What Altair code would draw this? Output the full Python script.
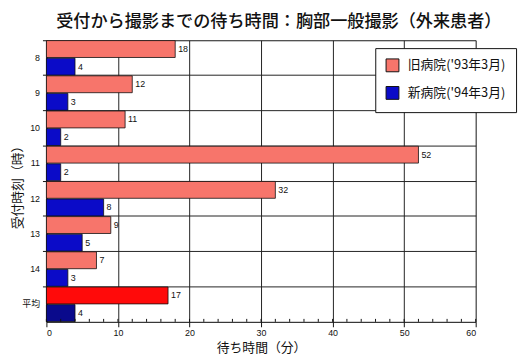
import altair as alt
import pandas as pd

hours = ["8", "9", "10", "11", "12", "13", "14", "平均"]
old_vals = [18, 12, 11, 52, 32, 9, 7, 17]
new_vals = [4, 3, 2, 2, 8, 5, 3, 4]
series = ["旧病院('93年3月)", "新病院('94年3月)"]
colors = ["#F7756B", "#0B0BC8"]
avg_colors = ["#FF0A0A", "#0A0A8C"]
minor_ticks = list(range(0, 61, 2))

rows = []
for h, o, n in zip(hours, old_vals, new_vals):
    rows.append({"hour": h, "series": series[0], "value": o,
                 "fill": avg_colors[0] if h == "平均" else colors[0]})
    rows.append({"hour": h, "series": series[1], "value": n,
                 "fill": avg_colors[1] if h == "平均" else colors[1]})
df = pd.DataFrame(rows)
ticks_df = pd.DataFrame({"t": minor_ticks})

JP = "Noto Sans CJK JP"
LAT = "Liberation Sans"
MIX = "Liberation Sans, Noto Sans CJK JP"

xscale = alt.Scale(domain=[0, 60], nice=False, zero=True)
yscale = alt.Scale(domain=hours, paddingInner=0, paddingOuter=0)

base = alt.Chart(df)

bars = base.mark_bar(stroke="#111111", strokeWidth=0.8).encode(
    x=alt.X("value:Q", scale=xscale,
            axis=alt.Axis(values=[0, 10, 20, 30, 40, 50, 60], title="待ち時間（分）",
                          titleFont=JP, titleFontSize=13, titleFontWeight="normal",
                          titleColor="#111111", titlePadding=4,
                          labelFont=LAT, labelFontSize=9, labelColor="#111111",
                          tickSize=5, tickColor="#111111", domainColor="#111111",
                          gridColor="#222222", gridWidth=1, labelPadding=2)),
    y=alt.Y("hour:N", sort=hours, scale=yscale,
            axis=alt.Axis(title="受付時刻（時）", titleFont=JP, titleFontSize=13,
                          titleFontWeight="normal", titleColor="#111111",
                          titleX=-29, titleY=146, titleAngle=-90,
                          titleAlign="center", titleBaseline="middle",
                          labelFont=MIX, labelFontSize=9, labelColor="#111111",
                          bandPosition=0, grid=True, gridColor="#222222",
                          tickColor="#111111", tickSize=4, domainColor="#111111",
                          labelPadding=3)),
    yOffset=alt.YOffset("series:N", sort=series,
                        scale=alt.Scale(paddingInner=0.04, paddingOuter=0.02)),
    fill=alt.Fill("fill:N", scale=None),
)

legend_bars = base.mark_bar(opacity=0).encode(
    x=alt.X("value:Q", scale=xscale),
    y=alt.Y("hour:N", sort=hours, scale=yscale),
    yOffset=alt.YOffset("series:N", sort=series),
    color=alt.Color("series:N", sort=series,
                    scale=alt.Scale(domain=series, range=colors),
                    legend=alt.Legend(title=None, orient="none", legendX=334, legendY=8,
                                      symbolType="square", symbolSize=170,
                                      symbolStrokeColor="#111111", symbolStrokeWidth=1,
                                      symbolOpacity=1, labelOffset=8,
                                      labelFont=JP, labelFontSize=13, labelColor="#111111",
                                      fillColor="white", strokeColor="#111111",
                                      padding=10, rowPadding=9, labelLimit=200)),
)

labels = base.mark_text(align="left", baseline="middle", dx=3, font=LAT,
                        fontSize=9, color="#111111").encode(
    x=alt.X("value:Q", scale=xscale),
    y=alt.Y("hour:N", sort=hours, scale=yscale),
    yOffset=alt.YOffset("series:N", sort=series),
    text=alt.Text("value:Q"),
)

minor = alt.Chart(ticks_df).mark_rule(color="#111111", strokeWidth=1).encode(
    x=alt.X("t:Q", scale=xscale),
    y=alt.value(286),
    y2=alt.value(283),
)

chart = alt.layer(bars, legend_bars, labels, minor).properties(
    width=436, height=286,
    title=alt.TitleParams("受付から撮影までの待ち時間：胸部一般撮影（外来患者）",
                          font=JP, fontSize=17.4, fontWeight=500, color="#111111",
                          anchor="start", frame="group", dx=10, offset=10),
    autosize=alt.AutoSizeParams(type="none"),
    padding={"left": 39, "top": 30, "right": 45, "bottom": 36},
).configure_view(stroke="#111111", strokeWidth=1).configure(background="white")

chart.save("out.html", embed_options={"renderer": "svg", "actions": False})
